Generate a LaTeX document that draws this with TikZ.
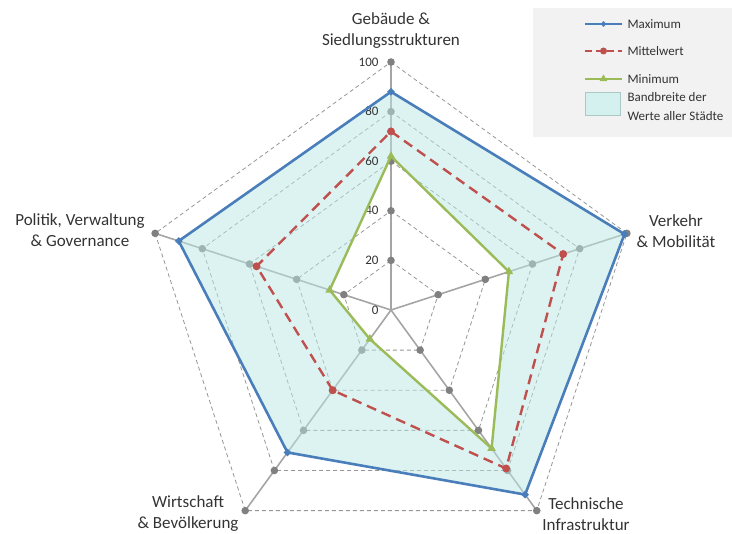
\documentclass[tikz,border=0pt]{standalone}
\usepackage{fontspec}
\setmainfont{Carlito}
\usetikzlibrary{shapes.geometric,positioning}
\definecolor{maxblue}{RGB}{74, 126, 187}
\definecolor{meanred}{RGB}{192, 80, 77}
\definecolor{mingreen}{RGB}{155, 187, 89}
\definecolor{bandcyan}{RGB}{185, 232, 228}
\definecolor{gridgray}{RGB}{150, 150, 150}
\definecolor{axisgray}{RGB}{165, 165, 165}
\definecolor{dotgray}{RGB}{128, 128, 128}
\definecolor{legendgray}{RGB}{242, 242, 242}

\tikzset{
    gridline/.style   = {gridgray, line width=0.8pt, dash pattern=on 4pt off 3pt},
    axisline/.style   = {axisgray, line width=1.6pt},
    maxline/.style    = {maxblue, line width=2.6pt, line join=round},
    meanline/.style   = {meanred, line width=2.4pt, dash pattern=on 10pt off 6pt},
    minline/.style    = {mingreen, line width=2.4pt, line join=round},
    maxmark/.style    = {diamond, fill=maxblue, inner sep=0pt, minimum size=8pt},
    meanmark/.style   = {circle, fill=meanred, inner sep=0pt, minimum size=8pt},
    minmark/.style    = {regular polygon, regular polygon sides=3, fill=mingreen, inner sep=0pt, minimum size=10pt},
    catlabel/.style   = {align=center, font=\fontsize{17}{21}\selectfont, text=black!80},
    numlabel/.style   = {anchor=east, font=\fontsize{13}{15}\selectfont, text=black!80},
    legtext/.style    = {anchor=west, align=left, font=\fontsize{13}{19}\selectfont, text=black!80}
}

\begin{document}
\begin{tikzpicture}[x=1pt, y=1pt]
    \useasboundingbox (-391,-224) rectangle (341,310);
    \coordinate (c) at (0,0);
    % Axes ends
    \foreach \a [count=\i] in {90, 18, -54, -126, 162}
        \coordinate (ax\i) at (\a:248);
    % Grid pentagons
    \foreach \r in {20, 40, 60, 80, 100}
        \draw[gridline] (90:{2.48*\r}) -- (18:{2.48*\r}) -- (-54:{2.48*\r})
                        -- (-126:{2.48*\r}) -- (162:{2.48*\r}) -- cycle;
    % Axes with dots
    \foreach \a [count=\i] in {90, 18, -54, -126, 162} {
        \draw[axisline] (c) -- (ax\i);
        \foreach \r in {20, 40, 60, 80, 100}
            \fill[dotgray] (\a:{2.48*\r}) circle (3.8pt);
    }
    % Data points
    \foreach \v/\a [count=\i] in {88/90, 99/18, 92/-54, 71/-126, 90/162}
        \coordinate (max\i) at (\a:{2.48*\v});
    \foreach \v/\a [count=\i] in {72/90, 73/18, 79/-54, 40/-126, 57/162}
        \coordinate (mean\i) at (\a:{2.48*\v});
    \foreach \v/\a [count=\i] in {62/90, 50/18, 69/-54, 14.5/-126, 26/162}
        \coordinate (min\i) at (\a:{2.48*\v});
    % Band between min and max
    \fill[bandcyan, opacity=0.5, even odd rule]
        (max1) -- (max2) -- (max3) -- (max4) -- (max5) -- cycle
        (min1) -- (min2) -- (min3) -- (min4) -- (min5) -- cycle;
    % Scale numbers
    \foreach \r in {0, 20, 40, 60, 80, 100}
        \node[numlabel] (num\r) at (-9,{2.48*\r}) {\r};
    % Series
    \draw[maxline]  (max1) -- (max2) -- (max3) -- (max4) -- (max5) -- cycle;
    \draw[meanline] (mean1) -- (mean2) -- (mean3) -- (mean4) -- (mean5) -- cycle;
    \draw[minline]  (min1) -- (min2) -- (min3) -- (min4) -- (min5) -- cycle;
    \foreach \i in {1,...,5} {
        \node[maxmark]  (maxm\i)  at (max\i)  {};
        \node[meanmark] (meanm\i) at (mean\i) {};
        \node[minmark]  (minm\i)  at (min\i)  {};
    }
    % Category labels
    \node[catlabel] (gebaeude)   at (0,279)      {Gebäude \&\\Siedlungsstrukturen};
    \node[catlabel] (verkehr)    at (285,79)     {Verkehr\\\& Mobilität};
    \node[catlabel] (technik)    at (195,-204)   {Technische\\Infrastruktur};
    \node[catlabel] (wirtschaft) at (-203,-204)  {Wirtschaft\\\& Bevölkerung};
    \node[catlabel] (politik)    at (-311,80)    {Politik, Verwaltung\\\& Governance};
    % Legend
    \fill[legendgray] (142,173) rectangle (341,302);
    \coordinate (lgmaxa)  at (194,286);  \coordinate (lgmaxb)  at (231,286);
    \coordinate (lgmeana) at (194,259);  \coordinate (lgmeanb) at (231,259);
    \coordinate (lgmina)  at (194,231);  \coordinate (lgminb)  at (231,231);
    \draw[maxblue, line width=2.2pt]  (lgmaxa) -- (lgmaxb);
    \draw[meanred, line width=2.2pt, dash pattern=on 7pt off 4pt] (lgmeana) -- (lgmeanb);
    \draw[mingreen, line width=2.2pt] (lgmina) -- (lgminb);
    \node[maxmark, minimum size=6pt]  (lgmaxm)  at (212.5,286) {};
    \node[meanmark, minimum size=7pt] (lgmeanm) at (212.5,259) {};
    \node[minmark, minimum size=9pt]  (lgminm)  at (212.5,231) {};
    \node[legtext] (lgmax)  at (233,286) {Maximum};
    \node[legtext] (lgmean) at (233,259) {Mittelwert};
    \node[legtext] (lgmin)  at (233,231) {Minimum};
    \filldraw[fill=bandcyan!60, draw=bandcyan!70!gray, line width=0.4pt] (194,195) rectangle (229,218);
    \node[legtext, anchor=north west] (lgband) at (233,221) {Bandbreite der\\Werte aller Städte};
\end{tikzpicture}
\end{document}
